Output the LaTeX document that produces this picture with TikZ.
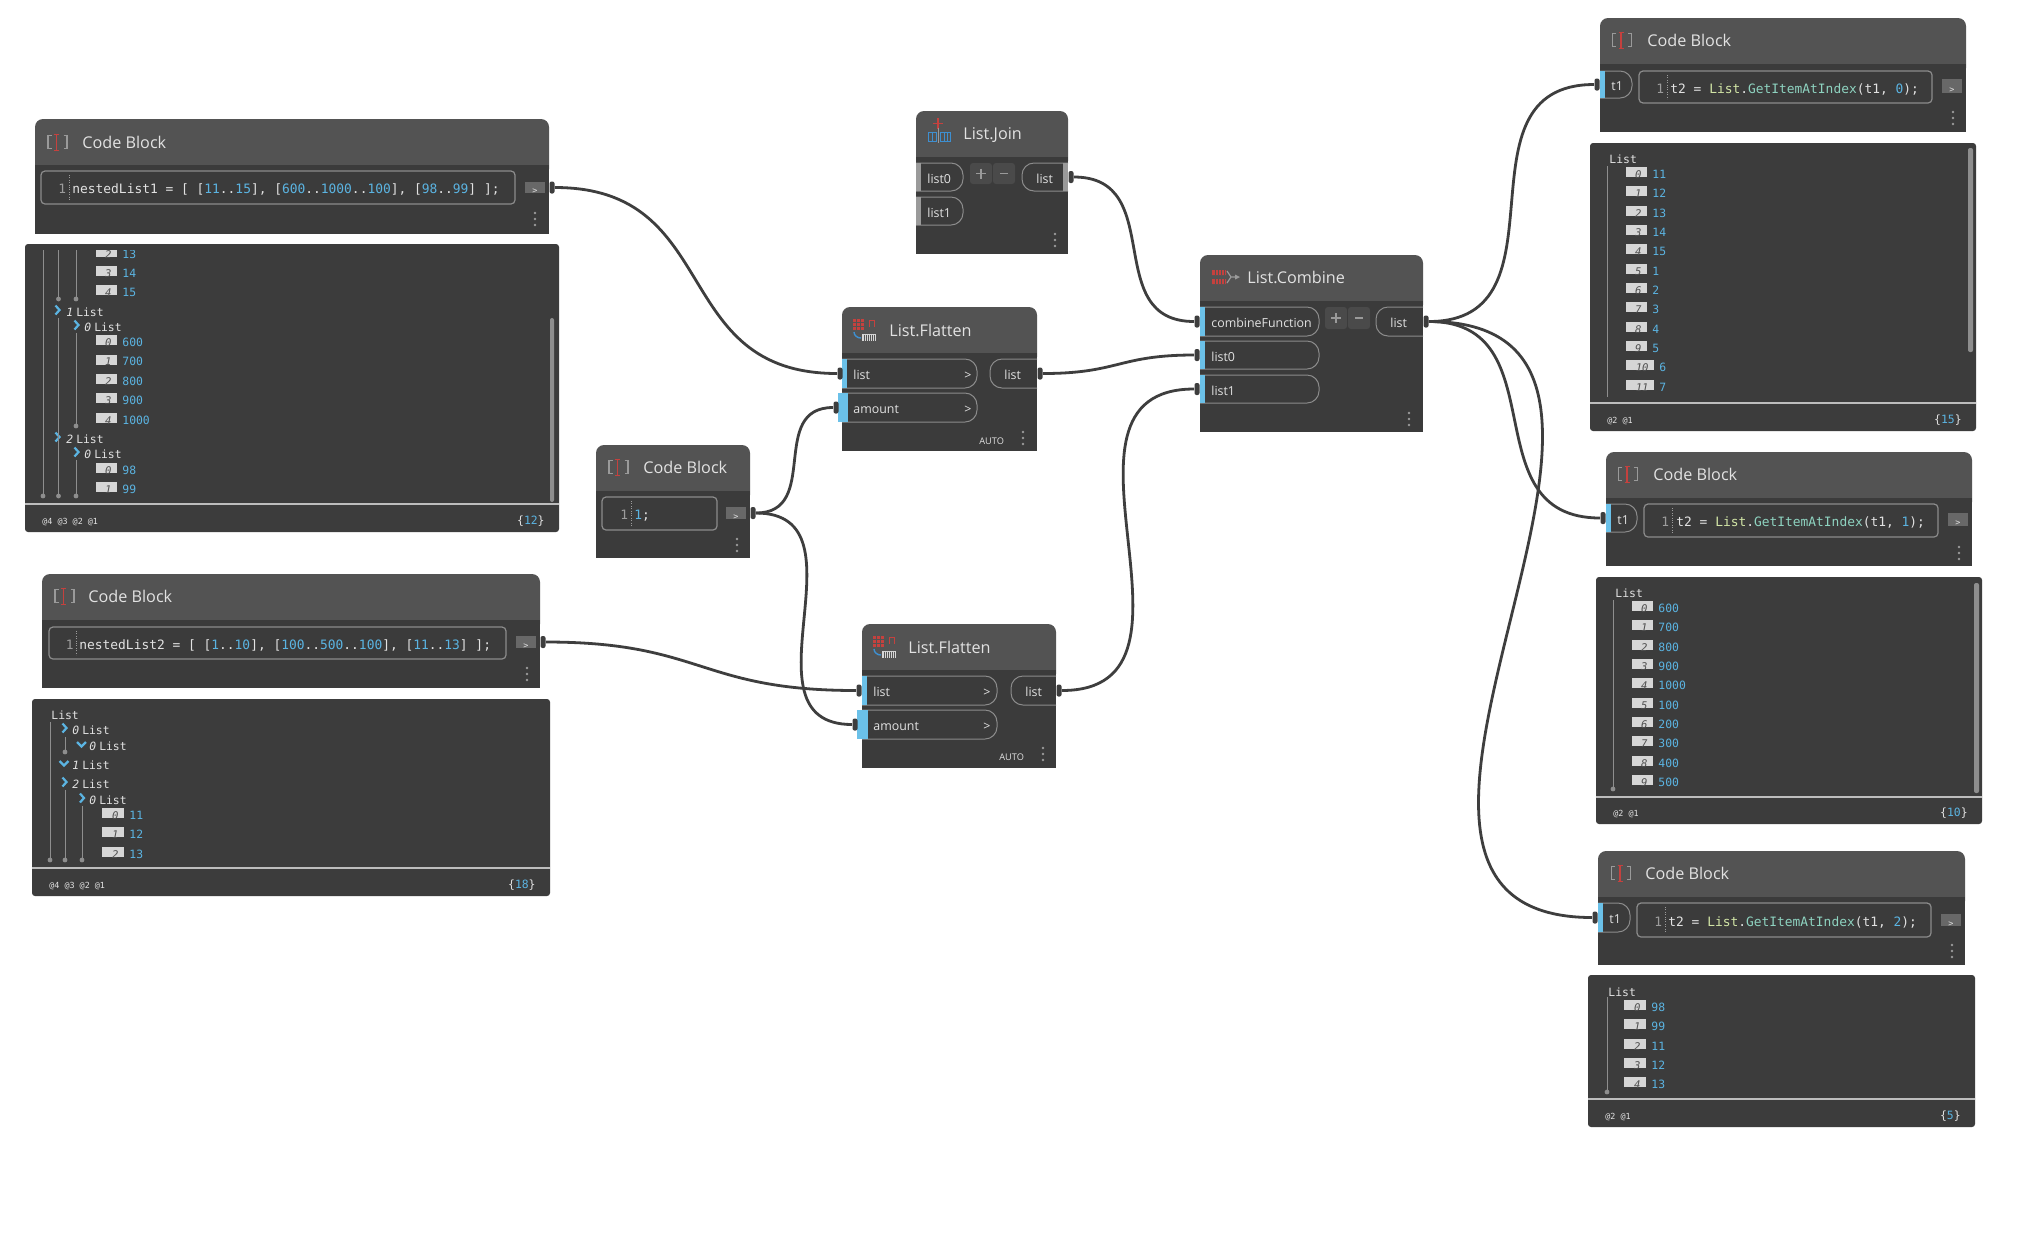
\documentclass[tikz,border=0pt]{standalone}
\usepackage{fontspec}
\setmainfont{Open Sans}
\newfontfamily\monofam{DejaVu Sans Mono}

\definecolor{nodebody}{HTML}{3B3B3B}
\definecolor{nodehead}{HTML}{535353}
\definecolor{watchbg}{HTML}{3C3C3C}
\definecolor{wirecol}{HTML}{3E3E3E}
\definecolor{portblue}{HTML}{6BC1E9}
\definecolor{portgray}{HTML}{9A9A9A}
\definecolor{pillline}{HTML}{8C8C8C}
\definecolor{linegray}{HTML}{9C9C9C}
\definecolor{lighttxt}{HTML}{E2E2E2}
\definecolor{valblue}{HTML}{5BB4E2}
\definecolor{idxfill}{HTML}{D6D6D6}
\definecolor{idxtxt}{HTML}{505050}
\definecolor{codegreen}{HTML}{D2E5A6}
\definecolor{codeteal}{HTML}{8ED3C0}
\definecolor{iconred}{HTML}{C5413E}
\definecolor{iconblue}{HTML}{3E8FD0}
\definecolor{treegray}{HTML}{8E8E8E}
\definecolor{btnfill}{HTML}{4A4A4A}
\definecolor{outbtn}{HTML}{686868}
\definecolor{footline}{HTML}{BDBDBD}

% fonts
\newcommand{\hdrfont}{\fontsize{8.1}{9}\selectfont}
\newcommand{\portfont}{\fontsize{6.2}{7}\selectfont}
\newcommand{\autofont}{\fontsize{4.6}{5}\selectfont}
\newcommand{\codefont}{\monofam\fontsize{6.45}{7}\selectfont}
\newcommand{\watchfont}{\monofam\fontsize{5.7}{6}\selectfont}
\newcommand{\idxfont}{\monofam\itshape\fontsize{5.3}{6}\selectfont}
\newcommand{\tagfont}{\monofam\fontsize{4.2}{5}\selectfont}
\newcommand{\cnum}[1]{\textcolor{valblue}{#1}}

% node body: x1,y1,x2,y2,header bottom
\newcommand{\dynbody}[5]{%
  \fill[nodehead,rounded corners=4pt] (#1,#2) rectangle (#3,#5+12);
  \fill[nodebody] (#1,#5) rectangle (#3,#4);}
\newcommand{\menudots}[2]{%
  \foreach \dd in {-6,0,6} {\fill[portgray] (#1,#2+\dd) circle (.7pt);}}
% input pill: x1,y1,x2,y2,bar,label
\newcommand{\inpill}[6]{%
  \draw[pill] (#1,#2) -- (#3,#2) -- (#3,#4) -- (#1,#4);
  \fill[#5] (#1,#2) rectangle (#1+5,#4);
  \node[portlbl] at (#1+11,{(#2+#4)/2}) {#6};}
% output pill: x1,y1,x2,y2,label
\newcommand{\outpill}[5]{%
  \draw[pill] (#3,#2) -- (#1,#2) -- (#1,#4) -- (#3,#4);
  \node[portlbl] at (#1+14,{(#2+#4)/2}) {#5};}
% code box: x1,y1,x2,y2,separator x,code x,code
\newcommand{\codebox}[7]{%
  \draw[pillline,line width=.6pt,rounded corners=2pt] (#1,#2) rectangle (#3,#4);
  \node[txt,anchor=east,font=\codefont,text=linegray] at (#5-2.5,{(#2+#4)/2}) {1};
  \draw[linegray,line width=.4pt,dash pattern=on .5pt off .7pt] (#5,#2+4) -- (#5,#4-4);
  \node[txt,anchor=west,font=\codefont] at (#6,{(#2+#4)/2}) {#7};}
\newcommand{\outbtn}[4]{%
  \fill[outbtn] (#1,#2) rectangle (#3,#4);
  \node[txt,font=\tagfont] at ({(#1+#3)/2},{(#2+#4)/2}) {>};}
\newcommand{\cbicon}[2]{%
  \draw[portgray,line width=.6pt] (#1-6,#2-6.5) -- (#1-9.5,#2-6.5) -- (#1-9.5,#2+6.5) -- (#1-6,#2+6.5);
  \draw[portgray,line width=.6pt] (#1+6,#2-6.5) -- (#1+9.5,#2-6.5) -- (#1+9.5,#2+6.5) -- (#1+6,#2+6.5);
  \draw[iconred,line width=.9pt] (#1-1,#2-8) -- (#1-1,#2+8);
  \draw[iconred,line width=.5pt] (#1-3.5,#2-8) -- (#1+1.5,#2-8) (#1-3.5,#2+8) -- (#1+1.5,#2+8);}
\newcommand{\plusminus}[3]{%
  \fill[btnfill,rounded corners=1.5pt] (#1,#2) rectangle (#1+22,#3);
  \fill[btnfill,rounded corners=1.5pt] (#1+23,#2) rectangle (#1+45,#3);
  \draw[portgray,line width=.8pt] (#1+6,{(#2+#3)/2}) -- (#1+16,{(#2+#3)/2}) (#1+11,{(#2+#3)/2-5}) -- (#1+11,{(#2+#3)/2+5});
  \draw[portgray,line width=.8pt] (#1+30,{(#2+#3)/2}) -- (#1+38,{(#2+#3)/2});}
\newcommand{\flaticon}[2]{%
  \foreach \ii in {0,4,8} {\foreach \jj in {0,4,8} {\fill[iconred] (#1+\ii,#2+\jj) rectangle (#1+\ii+3,#2+\jj+3);}}
  \draw[iconred,line width=.5pt] (#1+16,#2+8) -- (#1+16,#2+1) -- (#1+21,#2+1) -- (#1+21,#2+8);
  \draw[iconblue,line width=.7pt] (#1+1,#2+13) to[out=-90,in=180] (#1+8,#2+19);
  \fill[idxfill] (#1+9,#2+15) rectangle (#1+23,#2+22);
  \foreach \kk in {11,13,...,21} {\draw[nodehead,line width=.3pt] (#1+\kk,#2+15.5) -- (#1+\kk,#2+21.5);}}
% watch panel: x1,y1,x2,y2,footer y,levels,count
\newcommand{\watchbox}[7]{%
  \fill[watchbg,rounded corners=1.5pt] (#1,#2) rectangle (#3,#4);
  \draw[footline,line width=.8pt] (#1,#5) -- (#3,#5);
  \node[txt,anchor=west,font=\tagfont] at (#1+17,{(#5+#4)/2}) {#6};
  \node[txt,anchor=east,font=\watchfont] at (#3-14,{(#5+#4)/2}) {\{\cnum{#7}\}};}
\newcommand{\witem}[5]{%
  \fill[idxfill] (#1,#2-5) rectangle (#1+#5,#2+5);
  \node[txt,anchor=east,font=\idxfont,text=idxtxt] at (#1+#5-5,#2) {#3};
  \node[txt,anchor=west,font=\watchfont,text=valblue] at (#1+#5+5,#2) {#4};}
\newcommand{\tline}[3]{%
  \draw[treegray,line width=.5pt] (#1,#2) -- (#1,#3);
  \fill[treegray] (#1,#3) circle (1.2pt);}
\newcommand{\chevr}[2]{\draw[valblue,line width=1.1pt] (#1-1.5,#2-4.5) -- (#1+2.5,#2) -- (#1-1.5,#2+4.5);}
\newcommand{\chevd}[2]{\draw[valblue,line width=1.1pt] (#1-4.5,#2-2) -- (#1,#2+2.5) -- (#1+4.5,#2-2);}
\newcommand{\wsub}[3]{\node[txt,anchor=west,font=\watchfont] at (#1,#2) {{\itshape#3}\hspace{1.5pt}List};}

\begin{document}
\begin{tikzpicture}[x=0.5pt,y=-0.5pt,
  txt/.style={inner sep=0pt,text=lighttxt,text height=1.6ex,text depth=.4ex},
  title/.style={txt,anchor=west,font=\hdrfont},
  portlbl/.style={txt,anchor=west,font=\portfont},
  pill/.style={draw=pillline,line width=.5pt,rounded corners=6pt},
  capin/.style={fill=wirecol,inner sep=0pt,minimum width=2.5pt,minimum height=6pt,rounded corners=1pt},
  capout/.style={capin},
  wire/.style={draw=wirecol,line width=1.4pt,out=0,in=180,looseness=1.28}]

\useasboundingbox (0,0) rectangle (2018,1244);
\fill[white] (0,0) rectangle (2018,1244);

% Code Block nestedList1
\dynbody{35}{119}{549}{234}{165}
\cbicon{57.5}{142}
\node[title] (cb1-title) at (82,142) {Code Block};
\codebox{41}{171}{515}{204}{69}{72}{nestedList1 = [ [\cnum{11}..\cnum{15}], [\cnum{600}..\cnum{1000}..\cnum{100}], [\cnum{98}..\cnum{99}] ];}
\outbtn{525}{182}{545}{193}
\menudots{535}{219}
\node[capout] (cb1-out) at (552,187.5) {};

% watch of nestedList1
\watchbox{25}{244}{559}{532}{504}{@4 @3 @2 @1}{12}
\begin{scope}
\clip (25,250) rectangle (559,503);
\witem{96}{252}{2}{13}{21}
\witem{96}{271}{3}{14}{21}
\witem{96}{290}{4}{15}{21}
\draw[treegray,line width=.5pt] (43,240) -- (43,496);
\fill[treegray] (43,496) circle (1.2pt);
\draw[treegray,line width=.5pt] (58.5,240) -- (58.5,299);
\fill[treegray] (58.5,299) circle (1.2pt);
\draw[treegray,line width=.5pt] (76,240) -- (76,299);
\fill[treegray] (76,299) circle (1.2pt);
\end{scope}
\chevr{57}{310} \wsub{66}{310}{1}
\chevr{76}{325} \wsub{84}{325}{0}
\witem{96}{340}{0}{600}{21}
\witem{96}{359.5}{1}{700}{21}
\witem{96}{379}{2}{800}{21}
\witem{96}{398}{3}{900}{21}
\witem{96}{418}{4}{1000}{21}
\chevr{57}{437} \wsub{66}{437}{2}
\chevr{76}{452} \wsub{84}{452}{0}
\witem{96}{468}{0}{98}{21}
\witem{96}{487}{1}{99}{21}
\tline{58.5}{318}{496}
\tline{76}{333}{426}
\tline{76}{460}{496}
\fill[treegray,rounded corners=1pt] (550,318) rectangle (554,502);

% Code Block nestedList2
\dynbody{42}{574}{540}{688}{620}
\cbicon{64.5}{596}
\node[title] (cb2-title) at (88,596) {Code Block};
\codebox{49}{627}{506}{659}{76.5}{79}{nestedList2 = [ [\cnum{1}..\cnum{10}], [\cnum{100}..\cnum{500}..\cnum{100}], [\cnum{11}..\cnum{13}] ];}
\outbtn{516}{636}{536}{648}
\menudots{527}{674}
\node[capout] (cb2-out) at (543,642) {};

% watch of nestedList2
\watchbox{32}{699}{550}{896}{868}{@4 @3 @2 @1}{18}
\node[txt,anchor=west,font=\watchfont] (w2-head) at (51,713) {List};
\chevr{64}{728} \wsub{72}{728}{0}
\chevd{81.5}{744} \wsub{89}{744}{0}
\chevd{64}{763} \wsub{72}{763}{1}
\chevr{64}{782} \wsub{72}{782}{2}
\chevr{81.5}{798} \wsub{89}{798}{0}
\witem{102}{813}{0}{11}{22}
\witem{102}{832}{1}{12}{22}
\witem{102}{852}{2}{13}{22}
\tline{50}{722}{860}
\tline{65}{737}{752}
\tline{65}{790}{860}
\tline{82}{806}{860}

% Code Block 1;
\dynbody{596}{445}{750}{558}{491}
\cbicon{618.5}{467}
\node[title] (cbs-title) at (643,467) {Code Block};
\codebox{602}{497}{717}{530}{631}{634}{\cnum{1};}
\outbtn{726}{507}{746}{519}
\menudots{737}{545}
\node[capout] (cbs-out) at (753,513) {};

% List.Join
\dynbody{916}{111}{1068}{254}{157}
\draw[iconred,line width=.8pt] (938,118) -- (938,129) (933,123.5) -- (943,123.5);
\draw[iconblue,line width=.5pt] (928,132) rectangle (936,141) (940,132) rectangle (950,141)
  (932,132) -- (932,141) (944,132) -- (944,141) (947,132) -- (947,141);
\draw[portgray,line width=.4pt] (938,128) -- (938,143);
\node[title] (join-title) at (963,133) {List.Join};
\inpill{916}{163}{963}{191}{portgray}{list0}
\inpill{916}{197}{963}{225}{portgray}{list1}
\plusminus{970}{163}{184}
\outpill{1022}{163}{1068}{191}{list}
\fill[portgray] (1063,163) rectangle (1068,191);
\menudots{1055}{240}
\node[capout] (join-out) at (1071,177) {};

% List.Flatten (top)
\dynbody{842}{307}{1037}{451}{353}
\flaticon{853}{319}
\node[title] (fl1-title) at (889,330) {List.Flatten};
\inpill{842}{359}{977}{388}{portblue}{list}
\inpill{842}{393}{977}{422}{portblue}{amount}
\fill[portblue] (838,393) rectangle (848,422);
\node[portlbl] (fl1-arr1) at (964,373.5) {>};
\node[portlbl] (fl1-arr2) at (964,407.5) {>};
\outpill{990}{359}{1037}{388}{list}
\node[txt,anchor=west,font=\autofont] (fl1-auto) at (979,438) {AUTO};
\menudots{1023}{438}
\node[capin] (fl1-list) at (840,373.5) {};
\node[capin] (fl1-amount) at (836,407.5) {};
\node[capout] (fl1-out) at (1040,373.5) {};

% List.Flatten (bottom)
\dynbody{862}{624}{1056}{768}{670}
\flaticon{873}{636}
\node[title] (fl2-title) at (908,647) {List.Flatten};
\inpill{862}{676}{997}{705}{portblue}{list}
\inpill{862}{710}{997}{739}{portblue}{amount}
\fill[portblue] (857,710) rectangle (868,739);
\node[portlbl] (fl2-arr1) at (983,690.5) {>};
\node[portlbl] (fl2-arr2) at (983,724.5) {>};
\outpill{1011}{676}{1056}{705}{list}
\node[txt,anchor=west,font=\autofont] (fl2-auto) at (999,754) {AUTO};
\menudots{1043}{754}
\node[capin] (fl2-list) at (859,690.5) {};
\node[capin] (fl2-amount) at (855,724.5) {};
\node[capout] (fl2-out) at (1059,690.5) {};

% List.Combine
\dynbody{1200}{255}{1423}{432}{301}
\fill[iconred] (1212,270) rectangle (1226,275) (1212,279) rectangle (1226,284);
\foreach \sx in {1215,1218,1221,1224} {\draw[nodehead,line width=.3pt] (\sx,270) -- (\sx,275) (\sx,279) -- (\sx,284);}
\draw[portgray,line width=.6pt] (1227,271) -- (1231,277) -- (1227,283) (1231,277) -- (1236,277);
\fill[portgray] (1240,277) -- (1235,274.5) -- (1235,279.5) -- cycle;
\node[title] (comb-title) at (1247,277) {List.Combine};
\inpill{1200}{307}{1319}{336}{portblue}{combineFunction}
\inpill{1200}{341}{1319}{369}{portblue}{list0}
\inpill{1200}{375}{1319}{403}{portblue}{list1}
\plusminus{1325}{307}{329}
\outpill{1376}{307}{1423}{336}{list}
\menudots{1409}{419}
\node[capin] (comb-fn) at (1197,321.5) {};
\node[capin] (comb-l0) at (1197,355) {};
\node[capin] (comb-l1) at (1197,389) {};
\node[capout] (comb-out) at (1426,321.5) {};

% Code Block index 0
\dynbody{1600}{18}{1966}{132}{64}
\cbicon{1622}{40}
\node[title] (cbr1-title) at (1647,40) {Code Block};
\inpill{1600}{71}{1632}{98}{portblue}{t1}
\codebox{1639}{71}{1932}{103}{1667}{1670}{t2 = \textcolor{codegreen}{List}.\textcolor{codeteal}{GetItemAtIndex}(t1, \cnum{0});}
\outbtn{1942}{79}{1962}{93}
\menudots{1953}{118}
\node[capin] (cbr1-t1) at (1597,84.5) {};

\watchbox{1590}{143}{1976}{431}{403}{@2 @1}{15}
\node[txt,anchor=west,font=\watchfont] (w3-head) at (1609,157) {List};
\draw[treegray,line width=.5pt] (1607,166) -- (1607,397);
\witem{1626}{172}{0}{11}{21}
\witem{1626}{191.3}{1}{12}{21}
\witem{1626}{210.7}{2}{13}{21}
\witem{1626}{230}{3}{14}{21}
\witem{1626}{249.3}{4}{15}{21}
\witem{1626}{268.7}{5}{1}{21}
\witem{1626}{288}{6}{2}{21}
\witem{1626}{307.3}{7}{3}{21}
\witem{1626}{326.7}{8}{4}{21}
\witem{1626}{346}{9}{5}{21}
\witem{1626}{365.3}{10}{6}{28}
\witem{1626}{384.7}{11}{7}{28}
\fill[treegray,rounded corners=1pt] (1968,148) rectangle (1973,352);

% Code Block index 1
\dynbody{1606}{452}{1972}{566}{498}
\cbicon{1628}{474}
\node[title] (cbr2-title) at (1653,474) {Code Block};
\inpill{1606}{504}{1637}{532}{portblue}{t1}
\codebox{1644}{504}{1938}{537}{1672}{1676}{t2 = \textcolor{codegreen}{List}.\textcolor{codeteal}{GetItemAtIndex}(t1, \cnum{1});}
\outbtn{1948}{513}{1968}{526}
\menudots{1959}{553}
\node[capin] (cbr2-t1) at (1603,518) {};

\watchbox{1596}{577}{1982}{824}{797}{@2 @1}{10}
\node[txt,anchor=west,font=\watchfont] (w4-head) at (1615,591) {List};
\witem{1632}{606}{0}{600}{21}
\witem{1632}{625.3}{1}{700}{21}
\witem{1632}{644.7}{2}{800}{21}
\witem{1632}{664}{3}{900}{21}
\witem{1632}{683.3}{4}{1000}{21}
\witem{1632}{702.7}{5}{100}{21}
\witem{1632}{722}{6}{200}{21}
\witem{1632}{741.3}{7}{300}{21}
\witem{1632}{760.7}{8}{400}{21}
\witem{1632}{780}{9}{500}{21}
\tline{1613}{600}{789}
\fill[treegray,rounded corners=1pt] (1974,583) rectangle (1979,793);

% Code Block index 2
\dynbody{1598}{851}{1965}{965}{897}
\cbicon{1621}{873}
\node[title] (cbr3-title) at (1645,873) {Code Block};
\inpill{1598}{903}{1630}{932}{portblue}{t1}
\codebox{1637}{903}{1931}{937}{1665}{1668}{t2 = \textcolor{codegreen}{List}.\textcolor{codeteal}{GetItemAtIndex}(t1, \cnum{2});}
\outbtn{1941}{914}{1961}{926}
\menudots{1952}{951}
\node[capin] (cbr3-t1) at (1595,917.5) {};

\watchbox{1588}{975}{1975}{1127}{1099}{@2 @1}{5}
\node[txt,anchor=west,font=\watchfont] (w5-head) at (1608,990) {List};
\witem{1624}{1005}{0}{98}{22}
\witem{1624}{1024.3}{1}{99}{22}
\witem{1624}{1043.6}{2}{11}{22}
\witem{1624}{1062.9}{3}{12}{22}
\witem{1624}{1082.2}{4}{13}{22}
\tline{1607}{997}{1092}

% wires
\draw[wire] (cb1-out) to (fl1-list);
\draw[wire] (cbs-out) to (fl1-amount);
\draw[wire] (cbs-out) to (fl2-amount);
\draw[wire] (cb2-out) to (fl2-list);
\draw[wire] (join-out) to (comb-fn);
\draw[wire] (fl1-out) to (comb-l0);
\draw[wire] (fl2-out) to (comb-l1);
\draw[wire] (comb-out) to (cbr1-t1);
\draw[wire] (comb-out) to (cbr2-t1);
\draw[wire] (comb-out) to (cbr3-t1);
\end{tikzpicture}
\end{document}
